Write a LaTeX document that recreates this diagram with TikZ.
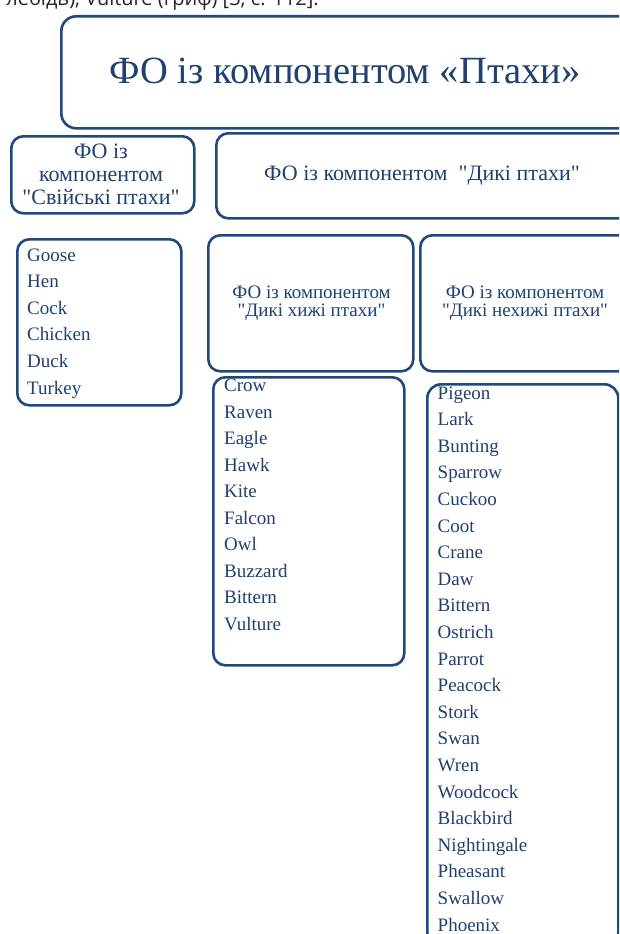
\documentclass[tikz,border=0pt]{standalone}
\usepackage{fontspec}
\setmainfont[Ligatures=TeXOff]{Liberation Serif}
\newfontfamily\topfont{Open Sans}
\definecolor{bblue}{RGB}{31,73,125}
\definecolor{tblue}{RGB}{31,64,112}
\begin{document}
\begin{tikzpicture}[x=1pt,y=-1pt,
  box/.style={draw=bblue, line width=2.6pt, rounded corners=12pt, anchor=north west, inner sep=0pt, fill=white},
  txt/.style={anchor=base, inner sep=0pt, text=tblue},
  hdA/.style={txt, font=\fontsize{22}{22}\selectfont},
  hdB/.style={txt, font=\fontsize{19}{19}\selectfont},
  item/.style={anchor=base west, inner sep=0pt, text=tblue, font=\fontsize{19}{19}\selectfont}]
\clip (0,0) rectangle (619,934);
\fill[white] (0,0) rectangle (619,934);
% cropped line of running text at the very top
\node[anchor=base east, inner sep=0pt, font=\topfont\fontsize{20}{20}\selectfont, text=black!85] (runtext) at (319,6) {лебідь), Vulture (гриф) [3, с. 112].};
% title
\node[box, rounded corners=15pt, minimum width=600pt, minimum height=112pt] (title) at (60,15) {};
\node[txt, font=\fontsize{38.5}{38.5}\selectfont] (titletext) at (345,83) {ФО із компонентом «Птахи»};
% second row
\node[box, minimum width=183pt, minimum height=77pt] (dom) at (10,135) {};
\node[hdA] (dom1) at (101,158) {ФО із};
\node[hdA] (dom2) at (101,181) {компонентом};
\node[hdA] (dom3) at (101,204) {"Свійські птахи"};
\node[box, minimum width=440pt, minimum height=85pt] (wild) at (215,132) {};
\node[hdA] (wildtext) at (422,180) {ФО із компонентом \ "Дикі птахи"};
% domestic list
\node[box, minimum width=164pt, minimum height=166pt] (domlist) at (16,238) {};
\foreach \w [count=\i from 0] in {Goose,Hen,Cock,Chicken,Duck,Turkey}
  \node[item] (d\i) at (27,261+26.6*\i) {\w};
% third row headers
\node[box, minimum width=205pt, minimum height=136pt] (pred) at (207,234) {};
\node[hdB] (pred1) at (311.5,298) {ФО із компонентом};
\node[hdB] (pred2) at (311.5,316.5) {"Дикі хижі птахи"};
\node[box, minimum width=240pt, minimum height=136pt] (nonpred) at (419,234) {};
\node[hdB] (nonpred1) at (525,298) {ФО із компонентом};
\node[hdB] (nonpred2) at (525,316.5) {"Дикі нехижі птахи"};
% predatory list
\node[box, minimum width=191pt, minimum height=288pt] (predlist) at (212,376) {};
\foreach \w [count=\i from 0] in {Crow,Raven,Eagle,Hawk,Kite,Falcon,Owl,Buzzard,Bittern,Vulture}
  \node[item] (p\i) at (224,391.5+26.5*\i) {\w};
% non-predatory list
\node[box, minimum width=191pt, minimum height=562pt, rounded corners=14pt] (nonpredlist) at (426,383) {};
\foreach \w [count=\i from 0] in {Pigeon,Lark,Bunting,Sparrow,Cuckoo,Coot,Crane,Daw,Bittern,Ostrich,Parrot,Peacock,Stork,Swan,Wren,Woodcock,Blackbird,Nightingale,Pheasant,Swallow,Phoenix}
  \node[item] (n\i) at (437.5,399+26.6*\i) {\w};
\end{tikzpicture}
\end{document}
